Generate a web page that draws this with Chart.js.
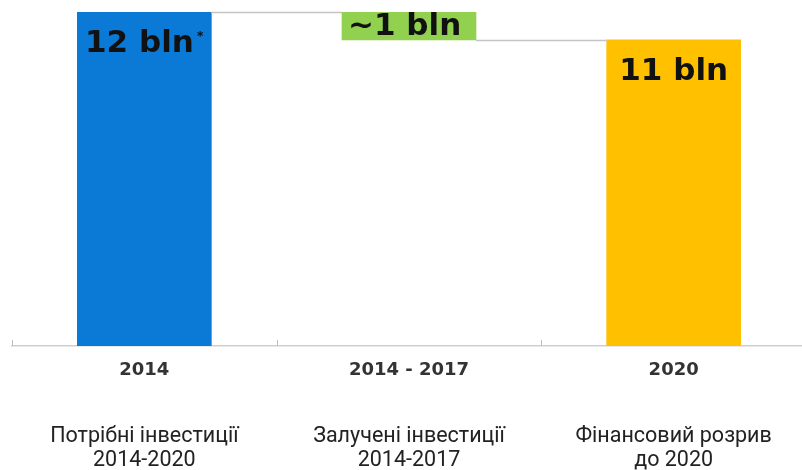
<!DOCTYPE html>
<html><head><meta charset="utf-8">
<script src="https://cdn.jsdelivr.net/npm/chart.js@4/dist/chart.umd.min.js"></script>
<style>html,body{margin:0;padding:0;overflow:hidden;background:#fff}#wrap{width:806px;height:470px;position:relative}</style>
</head><body><div id="wrap"><canvas id="c" width="806" height="470"></canvas></div>
<script>
const categories = ['2014', '2014 - 2017', '2020'];
const descriptions = [['Потрібні інвестиції', '2014-2020'], ['Залучені інвестиції', '2014-2017'], ['Фінансовий розрив', 'до 2020']];
const barStart = [0, 11, 0];
const barEnd = [12, 12, 11];
const valueLabels = ['12 bln', '~1 bln', '11 bln'];
const labelMarks = ['*', '', ''];
const colors = ['#0a7ad6', '#92d050', '#ffc000'];

const overlay = {
  id: 'overlay',
  afterDatasetsDraw(chart) {
    const ctx = chart.ctx;
    const meta = chart.getDatasetMeta(0);
    const y = chart.scales.y;
    const x = chart.scales.x;
    ctx.save();
    // connectors
    ctx.strokeStyle = '#c4c4c4';
    ctx.lineWidth = 1.5;
    for (let i = 0; i < meta.data.length - 1; i++) {
      const a = meta.data[i], b = meta.data[i + 1];
      const lo = Math.min(barStart[i + 1], barEnd[i + 1]), hi = Math.max(barStart[i + 1], barEnd[i + 1]);
      const level = (barEnd[i] >= lo && barEnd[i] <= hi) ? barEnd[i] : barStart[i];
      const py = Math.round(y.getPixelForValue(level)) + 0.5;
      ctx.beginPath();
      ctx.moveTo(a.x + a.width / 2, py);
      ctx.lineTo(b.x - b.width / 2, py);
      ctx.stroke();
    }
    // tick marks at category boundaries, pointing up
    ctx.strokeStyle = '#bdbdbd';
    ctx.lineWidth = 1;
    const bounds = [x.left];
    for (let i = 1; i < categories.length; i++) bounds.push((x.getPixelForValue(i - 1) + x.getPixelForValue(i)) / 2);
    bounds.push(x.right);
    bounds.forEach(bx => {
      const px = Math.round(bx) + 0.5;
      ctx.beginPath();
      ctx.moveTo(px, x.top);
      ctx.lineTo(px, x.top - 6);
      ctx.stroke();
    });
    // value labels
    ctx.fillStyle = '#111';
    ctx.textBaseline = 'alphabetic';
    meta.data.forEach((bar, i) => {
      const top = Math.min(bar.y, bar.base), bottom = Math.max(bar.y, bar.base);
      const short = bottom - top < 45;
      const baseline = short ? bottom - 5 : top + 40;
      ctx.font = 'bold 31px "DejaVu Sans"';
      const w = ctx.measureText(valueLabels[i]).width;
      let wm = 0;
      if (labelMarks[i]) { ctx.font = 'bold 13px "DejaVu Sans"'; wm = ctx.measureText(labelMarks[i]).width + 3; }
      const startX = short ? bar.x - bar.width / 2 + 6 : bar.x - (w + wm) / 2;
      ctx.font = 'bold 31px "DejaVu Sans"';
      ctx.textAlign = 'left';
      ctx.fillText(valueLabels[i], startX, baseline);
      if (labelMarks[i]) {
        ctx.font = 'bold 13px "DejaVu Sans"';
        ctx.fillText(labelMarks[i], startX + w + 3, baseline - 12);
      }
    });
    ctx.restore();
  }
};

new Chart(document.getElementById('c'), {
  type: 'bar',
  data: {
    labels: categories,
    datasets: [{
      data: barStart.map((s, i) => [s, barEnd[i]]),
      backgroundColor: colors,
      borderWidth: 0,
      barThickness: 134
    }]
  },
  options: {
    responsive: false,
    animation: false,
    devicePixelRatio: 1,
    layout: { padding: { top: 12, left: 12, right: 0, bottom: 0 } },
    plugins: { legend: { display: false }, tooltip: { enabled: false } },
    scales: {
      y: { display: false, min: 0, max: 12 },
      x: {
        grid: { display: false, drawTicks: false },
        border: { display: true, color: '#cfcfcf', width: 1.5 },
        ticks: { font: { family: '"DejaVu Sans"', size: 18, weight: 'bold' }, color: '#333', padding: 14, maxRotation: 0 },
        afterFit(s) { s.height = 50; s.paddingLeft = 0; s.paddingRight = 0; }
      },
      x2: {
        type: 'category',
        position: 'bottom',
        labels: descriptions,
        offset: true,
        grid: { display: false, drawTicks: false },
        border: { display: false },
        ticks: { font: { family: 'Roboto', size: 21.5, lineHeight: 1.12 }, color: '#222', padding: 29, maxRotation: 0 },
        afterFit(s) { s.height = 74; s.paddingLeft = 0; s.paddingRight = 0; }
      }
    }
  },
  plugins: [overlay]
});
</script>
</body></html>
